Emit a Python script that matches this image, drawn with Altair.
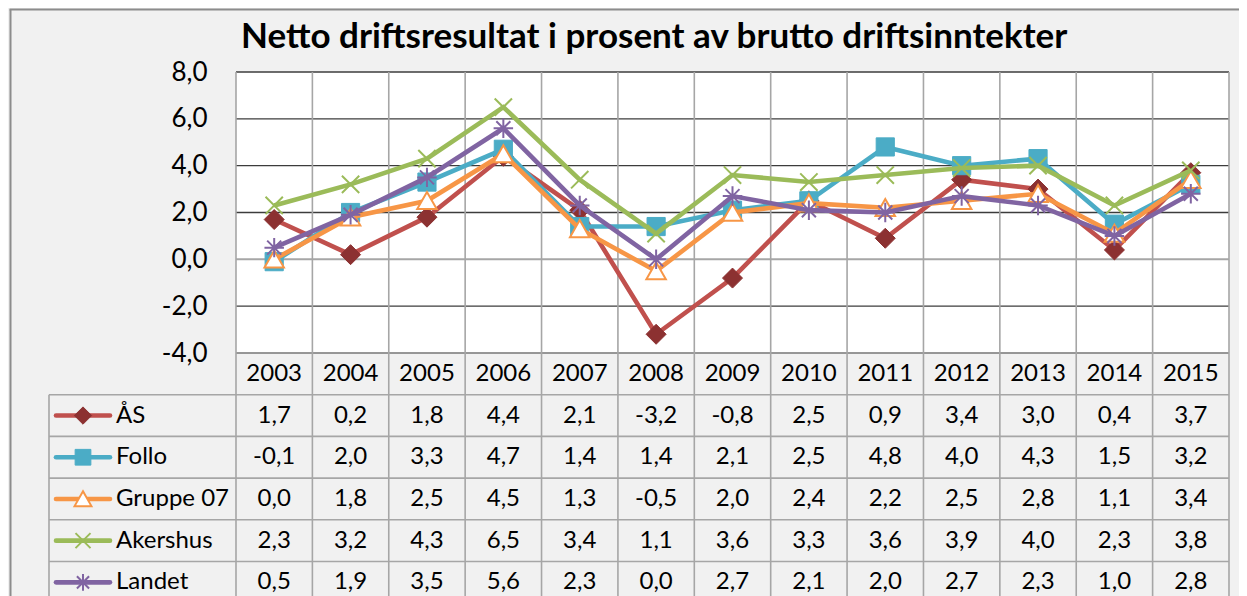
import altair as alt
import pandas as pd

# ---------------- data ----------------
title_text = "Netto driftsresultat i prosent av brutto driftsinntekter"
years = list(range(2003, 2016))
series_names = ["ÅS", "Follo", "Gruppe 07", "Akershus", "Landet"]
aas_vals = [1.7, 0.2, 1.8, 4.4, 2.1, -3.2, -0.8, 2.5, 0.9, 3.4, 3.0, 0.4, 3.7]
follo_vals = [-0.1, 2.0, 3.3, 4.7, 1.4, 1.4, 2.1, 2.5, 4.8, 4.0, 4.3, 1.5, 3.2]
gruppe_vals = [0.0, 1.8, 2.5, 4.5, 1.3, -0.5, 2.0, 2.4, 2.2, 2.5, 2.8, 1.1, 3.4]
akershus_vals = [2.3, 3.2, 4.3, 6.5, 3.4, 1.1, 3.6, 3.3, 3.6, 3.9, 4.0, 2.3, 3.8]
landet_vals = [0.5, 1.9, 3.5, 5.6, 2.3, 0.0, 2.7, 2.1, 2.0, 2.7, 2.3, 1.0, 2.8]
y_ticks = [-4, -2, 0, 2, 4, 6, 8]

# ---------------- styles ----------------
line_colors = ["#c0504d", "#4bacc6", "#f79646", "#9bbb59", "#8064a2"]
marker_fill = ["#8c3131", "#4bacc6", "#ffffff", "transparent", "transparent"]
marker_stroke = ["#8c3131", "#4bacc6", "#f79646", "#9bbb59", "#8064a2"]
marker_shape = [
    "diamond",
    "square",
    "M0,-0.9L1,0.85L-1,0.85Z",
    "M-1,-1L1,1M-1,1L1,-1",
    "M-1,0L1,0M0,-1L0,1M-0.72,-0.72L0.72,0.72M-0.72,0.72L0.72,-0.72",
]
marker_size = [400, 330, 380, 300, 380]
marker_sw = [1, 1, 2, 2, 2]

FONT = "Lato"
W, H_PLOT, H_TOTAL = 993, 281, 524
GRID_DARK = "#3c3c3c"
GRID_GRAY = "#a6a6a6"
BG = "#f1f1f1"
FRAME = "#8c8c8c"

all_vals = [aas_vals, follo_vals, gruppe_vals, akershus_vals, landet_vals]
recs = []
for i, (s, vals) in enumerate(zip(series_names, all_vals)):
    for yr, v in zip(years, vals):
        recs.append({"series": s, "year": yr, "value": v,
                     "label": f"{v:.1f}".replace(".", ","), "row": i + 1.5})
df = pd.DataFrame(recs)

x_scale = alt.Scale(domain=[years[0] - 0.5, years[-1] + 0.5], nice=False, zero=False)
y_top = alt.Scale(domain=[y_ticks[0], y_ticks[-1]], range=[H_PLOT, 0], nice=False, zero=False)
row_h = 41.7
y_tab = alt.Scale(domain=[0, (H_TOTAL - H_PLOT) / row_h], range=[H_PLOT, H_TOTAL], nice=False, zero=False)

y_axis = alt.Axis(values=y_ticks,
                  labelExpr="replace(replace(format(datum.value, '.1f'), '.', ','), '\u2212', '-')",
                  labelFont=FONT, labelFontSize=26, labelColor="#000000", labelPadding=29,
                  ticks=False, tickSize=0, domain=False, grid=False, title=None)


def xq(field):
    return alt.X(f"{field}:Q", scale=x_scale, axis=None)


def ytop(field):
    return alt.Y(f"{field}:Q", scale=y_top, axis=y_axis)


def ytab(field):
    return alt.Y(f"{field}:Q", scale=y_tab, axis=None)


one = pd.DataFrame({"k": [0]})

# ---------------- top (plot area) ----------------
top_layers = []
# chart frame (left and top edges)
top_layers.append(
    alt.Chart(one).mark_rule(color=FRAME, strokeWidth=2).encode(
        x=alt.value(-225.5), y=alt.value(-62.5), y2=alt.value(H_TOTAL + 10)
    )
)
top_layers.append(
    alt.Chart(one).mark_rule(color=FRAME, strokeWidth=2).encode(
        x=alt.value(-226.5), x2=alt.value(W + 40), y=alt.value(-62.5)
    )
)
top_layers.append(
    alt.Chart(pd.DataFrame({"gy": [y_ticks[0]]})).mark_rect(fill="white").encode(
        x=alt.value(0), x2=alt.value(W), y=ytop("gy"), y2=alt.value(0)
    )
)
hgrid = pd.DataFrame({"gy": [t for t in y_ticks if t != 0]})
top_layers.append(
    alt.Chart(hgrid).mark_rule(color=GRID_DARK, strokeWidth=1.4).encode(
        y=ytop("gy"), x=alt.value(0), x2=alt.value(W)
    )
)
top_layers.append(
    alt.Chart(pd.DataFrame({"gy": [0]})).mark_rule(color=GRID_GRAY, strokeWidth=2).encode(
        y=ytop("gy"), x=alt.value(0), x2=alt.value(W)
    )
)
vgrid = pd.DataFrame({"gx": [yr - 0.5 for yr in years] + [years[-1] + 0.5]})
top_layers.append(
    alt.Chart(vgrid).mark_rule(color=GRID_GRAY, strokeWidth=1.6).encode(
        x=xq("gx"), y=alt.value(0), y2=alt.value(H_TOTAL)
    )
)
for i, s in enumerate(series_names):
    base = alt.Chart(df).transform_filter(alt.datum.series == s)
    top_layers.append(
        base.mark_line(color=line_colors[i], strokeWidth=4.6).encode(
            x=xq("year"), y=ytop("value")
        )
    )
    top_layers.append(
        base.mark_point(shape=marker_shape[i], size=marker_size[i], fill=marker_fill[i],
                        stroke=marker_stroke[i], strokeWidth=marker_sw[i], opacity=1,
                        fillOpacity=1).encode(
            x=xq("year"), y=ytop("value")
        )
    )
top_layers.append(
    alt.Chart(pd.DataFrame({"t": [title_text]})).mark_text(
        font=FONT, fontSize=35, fontWeight="bold", color="#000000", align="left",
        baseline="alphabetic"
    ).encode(text="t:N", x=alt.value(5), y=alt.value(-24))
)
top = alt.layer(*top_layers)

# ---------------- table ----------------
tab_layers = []
hdr = pd.DataFrame({"year": years, "label": [str(y) for y in years], "row": [0.5] * len(years)})
tab_layers.append(
    alt.Chart(pd.DataFrame({"b": [0]})).mark_rule(color=GRID_GRAY, strokeWidth=1.6).encode(
        y=ytab("b"), x=alt.value(0), x2=alt.value(W)
    )
)
tab_layers.append(
    alt.Chart(pd.DataFrame({"b": [1, 2, 3, 4, 5]})).mark_rule(color=GRID_GRAY, strokeWidth=1.6).encode(
        y=ytab("b"), x=alt.value(-187), x2=alt.value(W)
    )
)
tab_layers.append(
    alt.Chart(pd.DataFrame({"b": [1]})).mark_rule(color=GRID_GRAY, strokeWidth=1.6).encode(
        y=ytab("b"), y2=alt.value(H_TOTAL), x=alt.value(-187)
    )
)
tab_layers.append(
    alt.Chart(hdr).mark_text(font=FONT, fontSize=24, color="#000000", baseline="middle").encode(
        x=xq("year"), y=ytab("row"), text="label:N"
    )
)
tab_layers.append(
    alt.Chart(df).mark_text(font=FONT, fontSize=24, color="#000000", baseline="middle").encode(
        x=xq("year"), y=ytab("row"), text="label:N"
    )
)
leg = pd.DataFrame({"series": series_names, "row": [i + 1.5 for i in range(len(series_names))]})
for i, s in enumerate(series_names):
    lb = alt.Chart(leg).transform_filter(alt.datum.series == s)
    tab_layers.append(
        lb.mark_rule(color=line_colors[i], strokeWidth=4.6, strokeCap="round").encode(
            y=ytab("row"), x=alt.value(-180), x2=alt.value(-126)
        )
    )
    tab_layers.append(
        lb.mark_point(shape=marker_shape[i], size=marker_size[i] * 0.75, fill=marker_fill[i],
                      stroke=marker_stroke[i], strokeWidth=marker_sw[i], opacity=1,
                      fillOpacity=1).encode(
            y=ytab("row"), x=alt.value(-153)
        )
    )
    tab_layers.append(
        lb.mark_text(font=FONT, fontSize=24, color="#000000", align="left", baseline="middle").encode(
            y=ytab("row"), x=alt.value(-120), text="series:N"
        )
    )
table = alt.layer(*tab_layers)

chart = alt.layer(top, table).resolve_scale(y="independent").properties(
    width=W, height=H_TOTAL,
    autosize=alt.AutoSizeParams(type="none"),
    padding={"left": 228, "top": 64, "right": 10, "bottom": 0},
    background=BG,
).configure_view(stroke=None)

chart.save("out.html", embed_options={"renderer": "svg", "actions": False})
